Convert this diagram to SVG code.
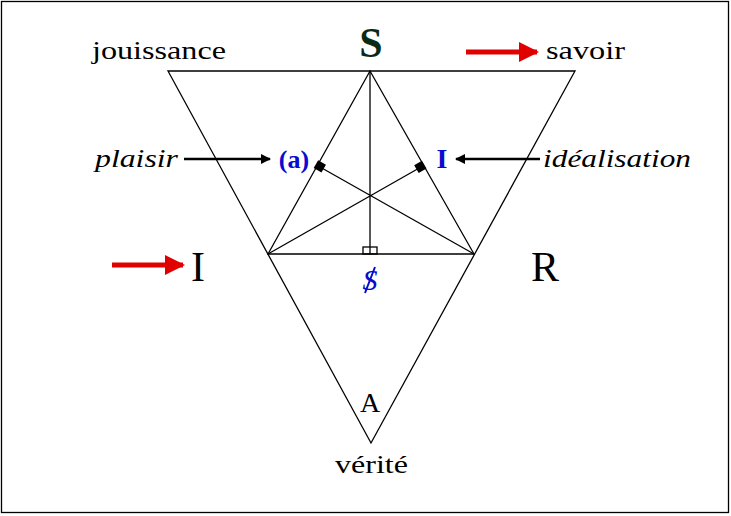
<svg xmlns="http://www.w3.org/2000/svg" width="731" height="516" viewBox="0 0 731 516">
<style>
.l{stroke:#000;stroke-width:1.3;fill:none}
.b{fill:#0a0ad0;font-weight:bold}
.it{font-style:italic;font-size:26px}
</style>
<defs>
<marker id="ak" viewBox="0 0 10 10" refX="9" refY="5" markerWidth="4" markerHeight="4" orient="auto"><path d="M0,0L10,5L0,10z" fill="#000"/></marker>
<marker id="ar" viewBox="0 0 10 10" refX="9" refY="5" markerWidth="4" markerHeight="4" orient="auto"><path d="M0,0L10,5L0,10z" fill="#e00000"/></marker>
</defs>
<rect x="1.5" y="1.5" width="727" height="511" fill="#fff" stroke="#000" stroke-width="1.3"/>
<g id="connectors">
<path class="l" d="M168,71H575L371,443Z"/>
<path class="l" d="M370,71L268,254H474Z"/>
<path class="l" d="M370,71V254M268,254L421,167M474,254L320,167"/>
<rect x="363" y="247" width="14" height="7" class="l" stroke-width="1"/>
<rect x="315" y="162" width="9" height="9" transform="rotate(30 320 167)" fill="#000"/>
<rect x="416" y="162" width="9" height="9" transform="rotate(-30 421 167)" fill="#000"/>
<line x1="184" y1="159" x2="270" y2="159" stroke="#000" stroke-width="2.5" marker-end="url(#ak)"/>
<line x1="540" y1="159" x2="456" y2="159" stroke="#000" stroke-width="2.5" marker-end="url(#ak)"/>
<line x1="466" y1="52" x2="537" y2="52" stroke="#e00000" stroke-width="5" marker-end="url(#ar)"/>
<line x1="112" y1="265" x2="183" y2="265" stroke="#e00000" stroke-width="5" marker-end="url(#ar)"/>
</g>
<g font-family="'Liberation Serif','DejaVu Serif',serif" fill="#000">
<g id="S"><text x="371" y="57" font-size="42" font-weight="bold" text-anchor="middle" fill="#0a2a14">S</text></g>
<g id="jouissance"><text x="92" y="59" font-size="26" textLength="134" lengthAdjust="spacingAndGlyphs">jouissance</text></g>
<g id="savoir"><text x="546" y="59" font-size="26" textLength="79" lengthAdjust="spacingAndGlyphs">savoir</text></g>
<g id="plaisir"><text x="95" y="167" class="it" textLength="83" lengthAdjust="spacingAndGlyphs">plaisir</text></g>
<g id="idealisation"><text x="543" y="167" class="it" textLength="148" lengthAdjust="spacingAndGlyphs">idéalisation</text></g>
<g id="a"><text x="294" y="168" font-size="26" class="b" text-anchor="middle">(a)</text></g>
<g id="I2"><text x="442" y="168" font-size="28" class="b" text-anchor="middle">I</text></g>
<g id="I"><text x="198" y="281" font-size="42" text-anchor="middle">I</text></g>
<g id="R"><text x="545" y="281" font-size="42" text-anchor="middle">R</text></g>
<g id="Sbarre"><text x="370" y="290" font-size="30" font-style="italic" text-anchor="middle" fill="#0a0ad0">S</text><line x1="365" y1="293" x2="375" y2="267" stroke="#0a0ad0" stroke-width="2"/></g>
<g id="A"><text x="370" y="412" font-size="28" text-anchor="middle">A</text></g>
<g id="verite"><text x="335" y="473" font-size="26" textLength="73" lengthAdjust="spacingAndGlyphs">vérité</text></g>
</g>
</svg>
